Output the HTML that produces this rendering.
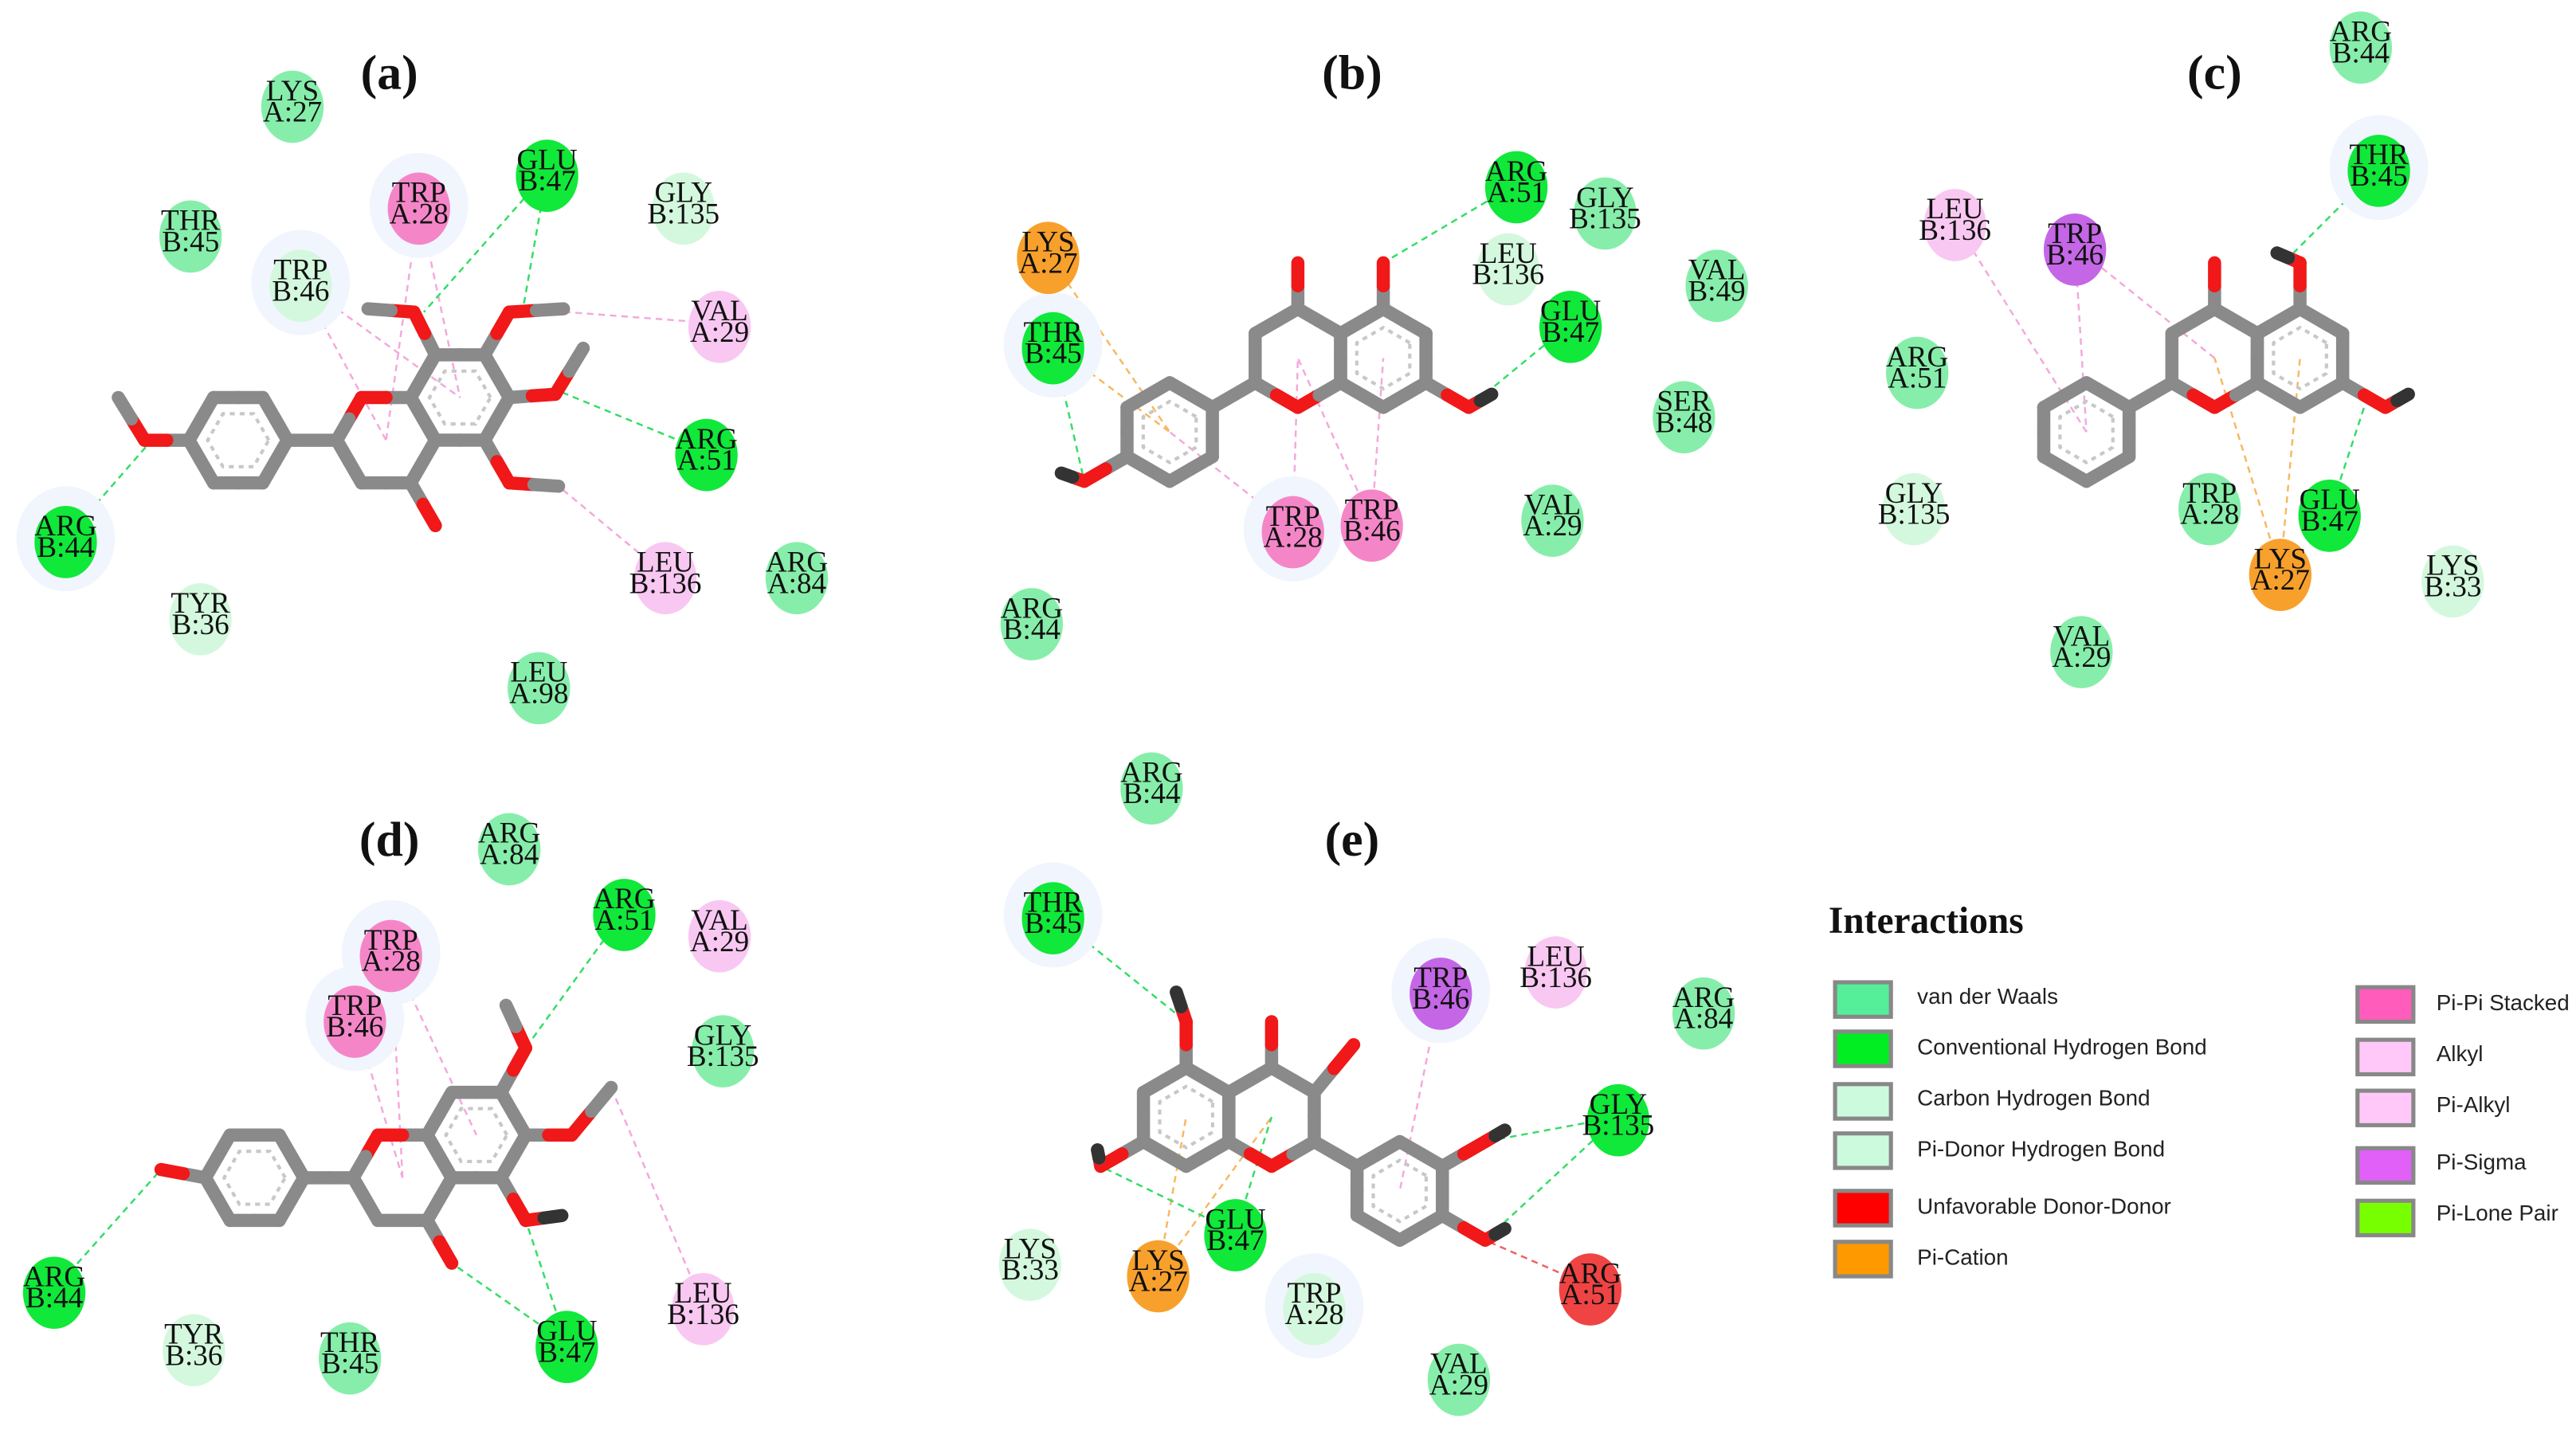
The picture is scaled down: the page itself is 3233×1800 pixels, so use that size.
<!DOCTYPE html>
<html><head><meta charset="utf-8"><style>
html,body{margin:0;padding:0;background:#fff}
svg{display:block}
.r{font-family:"Liberation Serif",serif;font-size:18px;fill:#111;text-anchor:middle}
.t{font-family:"Liberation Serif",serif;font-size:30px;font-weight:bold;fill:#111;text-anchor:middle}
.lg{font-family:"Liberation Sans",sans-serif;font-size:13.5px;fill:#222}
</style></head><body>
<svg id="s" width="3233" height="1800" viewBox="0 0 1568 873" xmlns="http://www.w3.org/2000/svg">
<g id="lines"></g>
<g id="halo"></g>
<g id="res"></g>
<g id="mol"></g>
<g id="labels">
<text class="t" x="237" y="54">(a)</text>
<text class="t" x="823" y="54">(b)</text>
<text class="t" x="1348" y="54">(c)</text>
<text class="t" x="237" y="521">(d)</text>
<text class="t" x="823" y="521">(e)</text>

<text class="r" x="178" y="61">LYS<tspan x="178" dy="13">A:27</tspan></text>
<text class="r" x="116" y="140">THR<tspan x="116" dy="13">B:45</tspan></text>
<text class="r" x="255" y="123">TRP<tspan x="255" dy="13">A:28</tspan></text>
<text class="r" x="333" y="103">GLU<tspan x="333" dy="13">B:47</tspan></text>
<text class="r" x="416" y="123">GLY<tspan x="416" dy="13">B:135</tspan></text>
<text class="r" x="183" y="170">TRP<tspan x="183" dy="13">B:46</tspan></text>
<text class="r" x="438" y="195">VAL<tspan x="438" dy="13">A:29</tspan></text>
<text class="r" x="430" y="273">ARG<tspan x="430" dy="13">A:51</tspan></text>
<text class="r" x="40" y="326">ARG<tspan x="40" dy="13">B:44</tspan></text>
<text class="r" x="122" y="373">TYR<tspan x="122" dy="13">B:36</tspan></text>
<text class="r" x="405" y="348">LEU<tspan x="405" dy="13">B:136</tspan></text>
<text class="r" x="485" y="348">ARG<tspan x="485" dy="13">A:84</tspan></text>
<text class="r" x="328" y="415">LEU<tspan x="328" dy="13">A:98</tspan></text>

<text class="r" x="638" y="153">LYS<tspan x="638" dy="13">A:27</tspan></text>
<text class="r" x="641" y="208">THR<tspan x="641" dy="13">B:45</tspan></text>
<text class="r" x="923" y="110">ARG<tspan x="923" dy="13">A:51</tspan></text>
<text class="r" x="977" y="126">GLY<tspan x="977" dy="13">B:135</tspan></text>
<text class="r" x="918" y="160">LEU<tspan x="918" dy="13">B:136</tspan></text>
<text class="r" x="1045" y="170">VAL<tspan x="1045" dy="13">B:49</tspan></text>
<text class="r" x="956" y="195">GLU<tspan x="956" dy="13">B:47</tspan></text>
<text class="r" x="1025" y="250">SER<tspan x="1025" dy="13">B:48</tspan></text>
<text class="r" x="945" y="313">VAL<tspan x="945" dy="13">A:29</tspan></text>
<text class="r" x="787" y="320">TRP<tspan x="787" dy="13">A:28</tspan></text>
<text class="r" x="835" y="316">TRP<tspan x="835" dy="13">B:46</tspan></text>
<text class="r" x="628" y="376">ARG<tspan x="628" dy="13">B:44</tspan></text>

<text class="r" x="1437" y="25">ARG<tspan x="1437" dy="13">B:44</tspan></text>
<text class="r" x="1448" y="100">THR<tspan x="1448" dy="13">B:45</tspan></text>
<text class="r" x="1190" y="133">LEU<tspan x="1190" dy="13">B:136</tspan></text>
<text class="r" x="1263" y="148">TRP<tspan x="1263" dy="13">B:46</tspan></text>
<text class="r" x="1167" y="223">ARG<tspan x="1167" dy="13">A:51</tspan></text>
<text class="r" x="1165" y="306">GLY<tspan x="1165" dy="13">B:135</tspan></text>
<text class="r" x="1345" y="306">TRP<tspan x="1345" dy="13">A:28</tspan></text>
<text class="r" x="1418" y="310">GLU<tspan x="1418" dy="13">B:47</tspan></text>
<text class="r" x="1388" y="346">LYS<tspan x="1388" dy="13">A:27</tspan></text>
<text class="r" x="1493" y="350">LYS<tspan x="1493" dy="13">B:33</tspan></text>
<text class="r" x="1267" y="393">VAL<tspan x="1267" dy="13">A:29</tspan></text>

<text class="r" x="310" y="513">ARG<tspan x="310" dy="13">A:84</tspan></text>
<text class="r" x="380" y="553">ARG<tspan x="380" dy="13">A:51</tspan></text>
<text class="r" x="438" y="566">VAL<tspan x="438" dy="13">A:29</tspan></text>
<text class="r" x="238" y="578">TRP<tspan x="238" dy="13">A:28</tspan></text>
<text class="r" x="216" y="618">TRP<tspan x="216" dy="13">B:46</tspan></text>
<text class="r" x="440" y="636">GLY<tspan x="440" dy="13">B:135</tspan></text>
<text class="r" x="33" y="783">ARG<tspan x="33" dy="13">B:44</tspan></text>
<text class="r" x="118" y="818">TYR<tspan x="118" dy="13">B:36</tspan></text>
<text class="r" x="213" y="823">THR<tspan x="213" dy="13">B:45</tspan></text>
<text class="r" x="345" y="816">GLU<tspan x="345" dy="13">B:47</tspan></text>
<text class="r" x="428" y="793">LEU<tspan x="428" dy="13">B:136</tspan></text>

<text class="r" x="701" y="476">ARG<tspan x="701" dy="13">B:44</tspan></text>
<text class="r" x="641" y="555">THR<tspan x="641" dy="13">B:45</tspan></text>
<text class="r" x="877" y="601">TRP<tspan x="877" dy="13">B:46</tspan></text>
<text class="r" x="947" y="588">LEU<tspan x="947" dy="13">B:136</tspan></text>
<text class="r" x="1037" y="613">ARG<tspan x="1037" dy="13">A:84</tspan></text>
<text class="r" x="985" y="678">GLY<tspan x="985" dy="13">B:135</tspan></text>
<text class="r" x="627" y="766">LYS<tspan x="627" dy="13">B:33</tspan></text>
<text class="r" x="705" y="773">LYS<tspan x="705" dy="13">A:27</tspan></text>
<text class="r" x="752" y="748">GLU<tspan x="752" dy="13">B:47</tspan></text>
<text class="r" x="800" y="793">TRP<tspan x="800" dy="13">A:28</tspan></text>
<text class="r" x="968" y="781">ARG<tspan x="968" dy="13">A:51</tspan></text>
<text class="r" x="888" y="836">VAL<tspan x="888" dy="13">A:29</tspan></text>

<text x="1113" y="568" style="font-family:'Liberation Serif',serif;font-size:23px;font-weight:bold;fill:#111">Interactions</text>
<text class="lg" x="1167" y="611">van der Waals</text>
<text class="lg" x="1167" y="642">Conventional Hydrogen Bond</text>
<text class="lg" x="1167" y="673">Carbon Hydrogen Bond</text>
<text class="lg" x="1167" y="704">Pi-Donor Hydrogen Bond</text>
<text class="lg" x="1167" y="739">Unfavorable Donor-Donor</text>
<text class="lg" x="1167" y="770">Pi-Cation</text>
<text class="lg" x="1483" y="615">Pi-Pi Stacked</text>
<text class="lg" x="1483" y="646">Alkyl</text>
<text class="lg" x="1483" y="677">Pi-Alkyl</text>
<text class="lg" x="1483" y="712">Pi-Sigma</text>
<text class="lg" x="1483" y="743">Pi-Lone Pair</text>
</g>
<g id="legend"></g>
</svg>
<script>
var NS="http://www.w3.org/2000/svg";
function el(g,t,a){var e=document.createElementNS(NS,t);for(var k in a)e.setAttribute(k,a[k]);document.getElementById(g).appendChild(e);return e;}
var C={V:'#86eeaa',G:'#10e83a',C:'#d4f8de',P:'#f486c8',A:'#f9c8f2',O:'#f8a02c',R:'#f04444',S:'#c466e6'};
var R=[
[178,63,'V'],[116,142,'V'],[255,125,'P',1],[333,105,'G'],[416,125,'C'],[183,172,'C',1],[438,197,'A'],[430,275,'G'],[40,328,'G',1],[122,375,'C'],[405,350,'A'],[485,350,'V'],[328,417,'V'],
[638,155,'O'],[641,210,'G',1],[923,112,'G'],[977,128,'V'],[918,162,'C'],[1045,172,'V'],[956,197,'G'],[1025,252,'V'],[945,315,'V'],[787,322,'P',1],[835,318,'P'],[628,378,'V'],
[1437,27,'V'],[1448,102,'G',1],[1190,135,'A'],[1263,150,'S'],[1167,225,'V'],[1165,308,'C'],[1345,308,'V'],[1418,312,'G'],[1388,348,'O'],[1493,352,'C'],[1267,395,'V'],
[310,515,'V'],[380,555,'G'],[438,568,'A'],[238,580,'P',1],[216,620,'P',1],[440,638,'V'],[33,785,'G'],[118,820,'C'],[213,825,'V'],[345,818,'G'],[428,795,'A'],
[701,478,'V'],[641,557,'G',1],[877,603,'S',1],[947,590,'A'],[1037,615,'V'],[985,680,'G'],[627,768,'C'],[705,775,'O'],[752,750,'G'],[800,795,'C',1],[968,783,'R'],[888,838,'V']];
R.forEach(function(r){
 if(r[3])el('halo','ellipse',{cx:r[0],cy:r[1],rx:30,ry:32,fill:'#f1f5fd'});
 el('res','ellipse',{cx:r[0],cy:r[1]+2,rx:19,ry:22,fill:C[r[2]]});
});
[[1117,598,'#55ee99'],[1117,628,'#00ee22'],[1117,660,'#ccfadd'],[1117,690,'#ccfadd'],[1117,725,'#ff0000'],[1117,756,'#ff9900'],
 [1435,601,'#ff5cbc'],[1435,633,'#ffc8f8'],[1435,664,'#ffc8f8'],[1435,699,'#e060f8'],[1435,731,'#77ff00']].forEach(function(b){
 el('legend','rect',{x:b[0],y:b[1],width:34,height:21,fill:b[2],stroke:'#888','stroke-width':2.5});
});
var L=[
[255,125,280,242,'p'],[183,172,280,242,'p'],[183,172,235,268,'p'],[333,105,258,190,'g'],[333,105,318,190,'g'],[430,275,340,238,'g'],[40,328,95,265,'g'],[438,197,345,190,'p'],[405,350,340,296,'p'],[255,125,235,268,'p'],
[638,155,712,263,'o'],[641,210,712,263,'o'],[641,210,660,293,'g'],[923,112,842,160,'g'],[956,197,894,248,'g'],[787,322,790,218,'p'],[835,318,842,218,'p'],[787,322,712,263,'p'],[835,318,790,218,'p'],
[1448,102,1390,160,'g'],[1263,150,1270,263,'p'],[1263,150,1348,218,'p'],[1418,312,1440,245,'g'],[1388,348,1348,218,'o'],[1388,348,1400,218,'o'],[1190,135,1270,263,'p'],
[380,555,320,638,'g'],[238,580,290,691,'p'],[216,620,245,717,'p'],[238,580,245,717,'p'],[345,818,320,743,'g'],[345,818,275,769,'g'],[33,785,98,712,'g'],[428,795,372,662,'p'],
[641,557,722,622,'g'],[877,603,852,725,'p'],[985,680,904,695,'g'],[985,680,904,755,'g'],[968,783,904,755,'r'],[705,775,722,680,'o'],[705,775,774,680,'o'],[752,750,670,710,'g'],[752,750,774,680,'g']];
var LC={p:'#f4a8dc',g:'#33dd66',o:'#f8b860',r:'#f06060'};
L.forEach(function(l){el('lines','line',{x1:l[0],y1:l[1],x2:l[2],y2:l[3],stroke:LC[l[4]],'stroke-width':1.2,'stroke-dasharray':'4,3'});});
var GR='#8a8a8a',RD='#f01818';
function bond(a,b,ca,cb){var mx=(a[0]+b[0])/2,my=(a[1]+b[1])/2;
 el('mol','line',{x1:a[0],y1:a[1],x2:mx,y2:my,stroke:ca||GR,'stroke-width':8,'stroke-linecap':'round'});
 el('mol','line',{x1:mx,y1:my,x2:b[0],y2:b[1],stroke:cb||GR,'stroke-width':8,'stroke-linecap':'round'});}
function hexV(cx,cy,r,flat){var v=[];for(var i=0;i<6;i++){var a=(flat?0:30)+60*i;a=a*Math.PI/180;v.push([cx+r*Math.cos(a),cy-r*Math.sin(a)]);}return v;}
function ring(cx,cy,r,flat,oIdx,arom){var v=hexV(cx,cy,r,flat);for(var i=0;i<6;i++){var j=(i+1)%6;bond(v[i],v[j],i===oIdx?RD:GR,j===oIdx?RD:GR);}
 if(arom){var w=hexV(cx,cy,r*0.62,flat);var d='M'+w.map(function(p){return p[0]+','+p[1]}).join('L')+'Z';el('mol','path',{d:d,fill:'none',stroke:'#c8c8c8','stroke-width':2,'stroke-dasharray':'3,3'});}
 return v;}
function O(a,b){bond(a,b,GR,RD);} function OH(a,b,h){bond(a,b,GR,RD);bond(b,h,RD,'#f4f4f4');el('mol','line',{x1:(b[0]+h[0])/2,y1:(b[1]+h[1])/2,x2:h[0],y2:h[1],stroke:'#333','stroke-width':8,'stroke-linecap':'round'});}
function ome(a,o,c){bond(a,o,GR,RD);bond(o,c,RD,GR);}
var r=30;
ring(145,268,r,true,-1,true);
ring(235,268,r,true,2,false);
ring(280,242,r,true,-1,true);
bond([175,268],[205,268]);
O([250,294],[265,320]);
ome([115,268],[88,268],[72,242]);
ome([265,216],[252,190],[224,188]);
ome([295,216],[310,190],[343,188]);
ome([310,242],[338,240],[355,212]);
ome([295,268],[310,294],[340,296]);
ring(790,218,r,false,4,false);
ring(842,218,r,false,-1,true);
ring(712,263,r,false,-1,true);
bond([764,233],[738,248]);
O([790,188],[790,160]);O([842,188],[842,160]);
OH([868,233],[894,248],[908,240]);
OH([686,278],[660,293],[646,288]);
ring(1348,218,r,false,4,false);
ring(1400,218,r,false,-1,true);
ring(1270,263,r,false,-1,true);
bond([1322,233],[1296,248]);
O([1348,188],[1348,160]);
OH([1400,188],[1400,160],[1386,154]);
OH([1426,233],[1452,248],[1466,240]);
ring(155,717,r,true,-1,true);
ring(245,717,r,true,2,false);
ring(290,691,r,true,-1,true);
bond([185,717],[215,717]);
O([260,743],[275,769]);
O([125,717],[98,712]);
ome([305,665],[320,638],[308,612]);
ome([320,691],[348,691],[372,662]);
OH([305,717],[320,743],[342,740]);
ring(774,680,r,false,4,false);
ring(722,680,r,false,-1,true);
ring(852,725,r,false,-1,true);
bond([800,695],[826,710]);
O([774,650],[774,622]);
O([800,665],[824,636]);
OH([722,650],[722,622],[716,604]);
OH([696,695],[670,710],[668,700]);
OH([878,710],[904,695],[916,688]);
OH([878,740],[904,755],[916,748]);
</script>
</body></html>
